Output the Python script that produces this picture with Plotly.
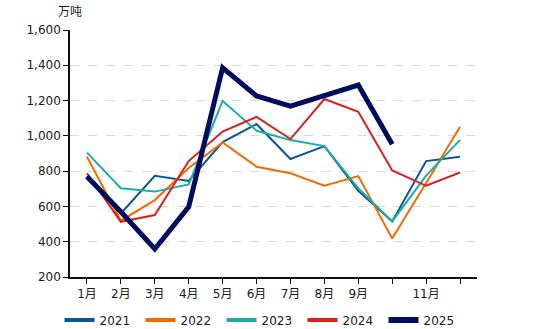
import plotly.graph_objects as go

months = ["1月", "2月", "3月", "4月", "5月", "6月", "7月", "8月", "9月", "10月", "11月", "12月"]
month_labels = ["1月", "2月", "3月", "4月", "5月", "6月", "7月", "8月", "9月", "", "11月", ""]

v2021 = [770, 560, 774, 744, 965, 1067, 869, 942, 689, 515, 857, 882]
v2022 = [882, 519, 636, 818, 963, 825, 788, 718, 772, 418, 733, 1052]
v2023 = [905, 703, 684, 725, 1198, 1029, 976, 942, 703, 515, 775, 977]
v2024 = [788, 513, 551, 857, 1024, 1108, 982, 1209, 1137, 804, 717, 792]
v2025 = [770, 570, 359, 598, 1386, 1226, 1169, 1232, 1288, 952]

# name, values, colour, line width in plot, line width in legend
series = [
    ("2021", v2021, "#0a5592", 2, 4),
    ("2022", v2022, "#f06c00", 2, 4),
    ("2023", v2023, "#1fabab", 2, 4),
    ("2024", v2024, "#d8201e", 2, 4),
    ("2025", v2025, "#000c5c", 5, 6),
]

FONT = "DejaVu Sans, Noto Sans CJK SC, sans-serif"
W, H = 545, 329
ML, MR, MT, MB = 70, 68, 30, 52
PW, PH = W - ML - MR, H - MT - MB

fig = go.Figure()
for name, vals, color, width, lw in series:
    fig.add_trace(go.Scatter(
        x=list(range(len(vals))), y=vals, name=name, mode="lines",
        line=dict(color=color, width=width), showlegend=False,
    ))
# legend keys drawn with a heavier stroke than the plotted lines
for name, vals, color, width, lw in series:
    fig.add_trace(go.Scatter(
        x=[None], y=[None], name=name, mode="lines",
        line=dict(color=color, width=lw), showlegend=True,
    ))

fig.update_layout(
    width=W, height=H,
    margin=dict(l=ML, r=MR, t=MT, b=MB, autoexpand=False),
    paper_bgcolor="white", plot_bgcolor="white",
    font=dict(family=FONT, size=12, color="#1a1a1a"),
    showlegend=True,
    legend=dict(
        orientation="h", x=(262 - ML) / PW, xanchor="center",
        y=-(320 - (MT + PH)) / PH, yanchor="middle",
        entrywidth=36, tracegroupgap=0, font=dict(size=12, color="#1a1a1a"),
        bgcolor="rgba(0,0,0,0)",
    ),
    xaxis=dict(
        range=[-0.5, 11.5], tickmode="array",
        tickvals=list(range(12)), ticktext=month_labels,
        showline=True, linecolor="#111", linewidth=1.5,
        ticks="outside", ticklen=5, tickcolor="#111", showgrid=False,
        zeroline=False, fixedrange=True,
    ),
    yaxis=dict(
        range=[200, 1600], tickmode="array",
        tickvals=[200, 400, 600, 800, 1000, 1200, 1400, 1600],
        tickformat=",d",
        showline=True, linecolor="#111", linewidth=1.5,
        ticks="outside", ticklen=5, tickcolor="#111",
        showgrid=True, gridcolor="#d9d9d9", griddash="dash", gridwidth=1,
        zeroline=False, fixedrange=True,
    ),
    annotations=[dict(
        text="万吨", xref="paper", yref="paper",
        x=(70 - ML) / PW, y=1 + (MT - 12) / PH,
        xanchor="center", yanchor="middle",
        showarrow=False, font=dict(size=12, color="#1a1a1a"),
    )],
)

fig.write_html("out.html")
